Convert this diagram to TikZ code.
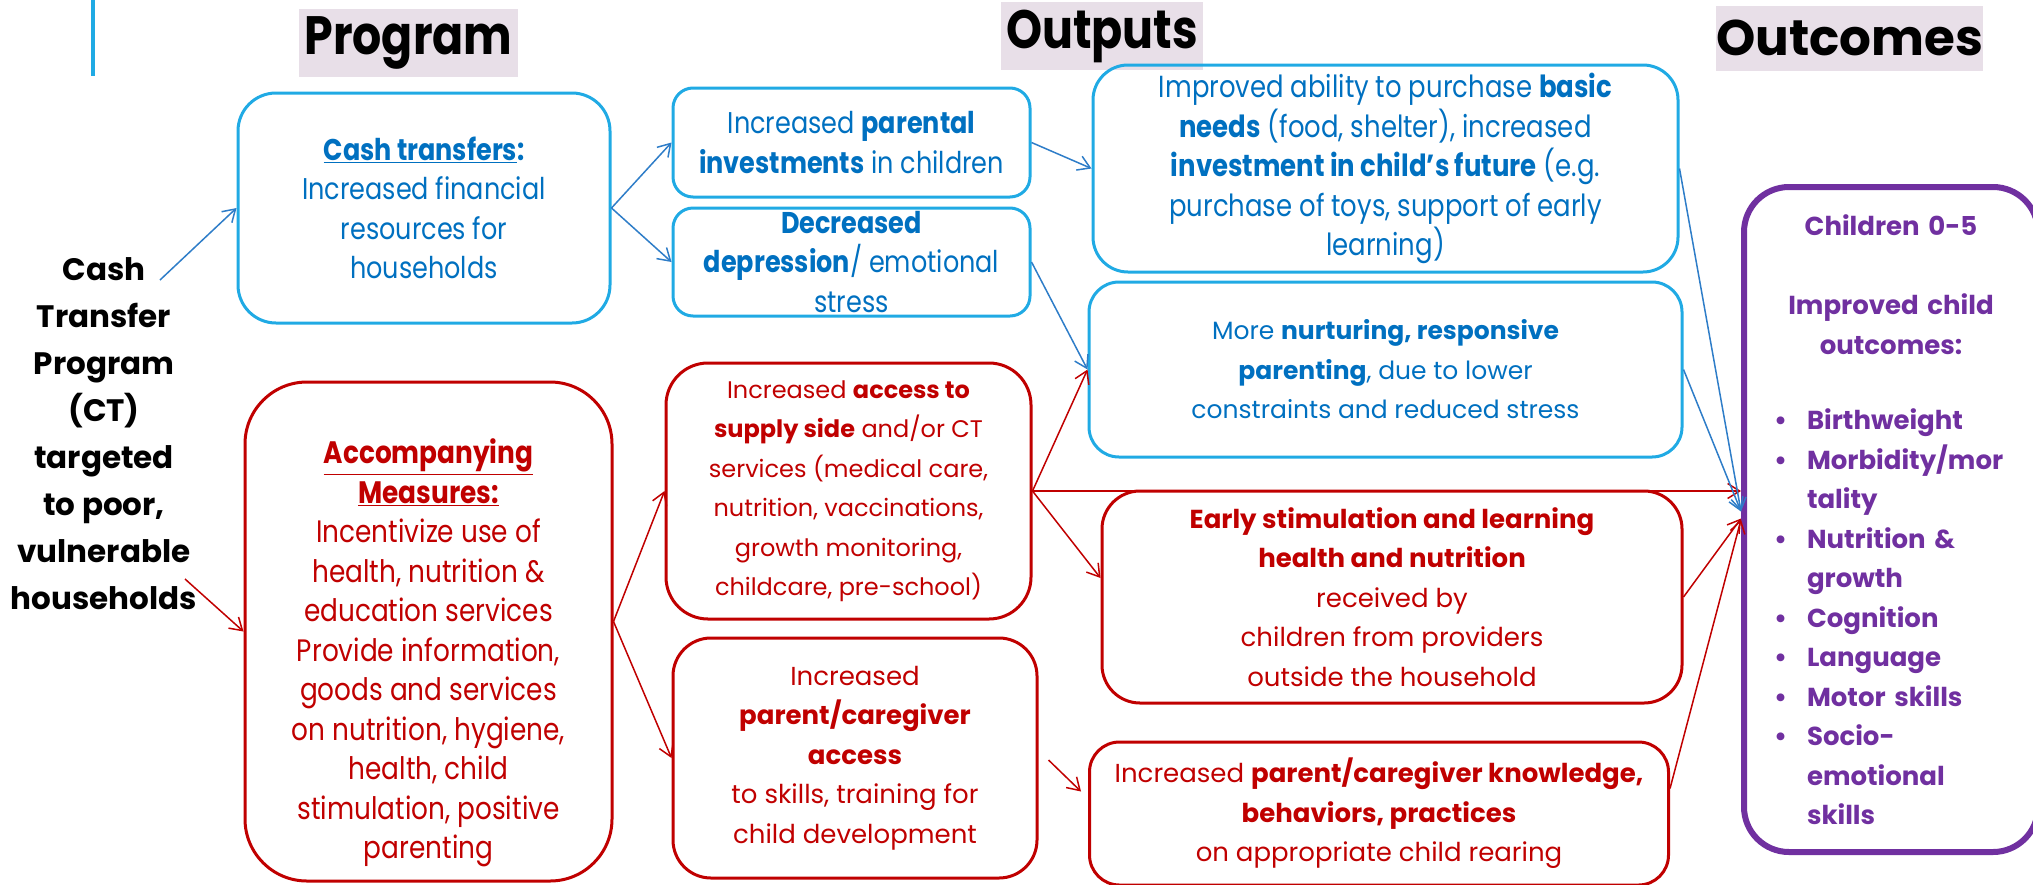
\documentclass[tikz,border=0pt]{standalone}
\usepackage{fontspec}
\setmainfont{Poppins}
\newfontfamily\twfont[FakeStretch=0.85]{Poppins}
\usetikzlibrary{arrows.meta}

\definecolor{ctcyan}{RGB}{32,170,228}
\definecolor{ctblue}{RGB}{0,112,192}
\definecolor{ctarrow}{RGB}{46,125,200}
\definecolor{ctred}{RGB}{192,0,0}
\definecolor{ctpurple}{RGB}{112,48,160}
\definecolor{headfill}{RGB}{232,223,232}

% font helpers (sizes are in pixels of the final picture)
\newcommand\twsize[1]{\twfont\fontsize{#1}{39.5}\selectfont}
\newcommand\cgsize[1]{\fontsize{#1}{39.5}\selectfont}
\newcommand\kiditem[1]{\makebox[36pt][l]{\hspace{3pt}\textbullet}#1\par}
\newcommand\kidcont[1]{\hspace*{36pt}#1\par}

\tikzset{
  headbox/.style={fill=headfill, inner sep=0pt, text=black},
  bluebox/.style={draw=ctcyan, line width=3pt, text=ctblue, align=center, inner sep=0pt},
  redbox/.style={draw=ctred, line width=3pt, text=ctred, align=center, inner sep=0pt},
  kidbox/.style={draw=ctpurple, line width=6pt, text=ctpurple, inner sep=0pt, rounded corners=45pt},
  bluearr/.style={->, ctarrow, line width=1.5pt},
  redarr/.style={->, ctred, line width=1.5pt}
}

\begin{document}
\begin{tikzpicture}[x=1pt, y=-1pt, line join=round,
  >={Straight Barb[length=12pt, width=15pt]}]

  \useasboundingbox (0,0) rectangle (2033,884);

  % ===== Column headers =====
  \draw[ctcyan, line width=4pt] (93,0) -- (93,76);
  \node[headbox, minimum width=219pt, minimum height=68pt,
        font=\twfont\bfseries\fontsize{54}{60}\selectfont] (hprog) at (408.5,43) {Program};
  \node[headbox, minimum width=202pt, minimum height=68pt,
        font=\twfont\bfseries\fontsize{54}{60}\selectfont] (hout) at (1102,36) {Outputs};
  \node[headbox, minimum width=257pt, minimum height=65pt,
        font=\bfseries\fontsize{50}{60}\selectfont] (hcome) at (1849.5,38) {Outcomes};

  % ===== Program =====
  \node[align=center, inner sep=0pt, font=\bfseries\fontsize{31}{47}\selectfont]
    (ctprog) at (104,434) {Cash\\Transfer\\Program\\(CT)\\targeted\\to poor,\\vulnerable\\households};
  \coordinate (ctout1) at (160,280);
  \coordinate (ctout2) at (185,579);

  \node[bluebox, minimum width=372pt, minimum height=230pt, rounded corners=38pt,
        font=\twsize{30}] (cash) at (424,208)
    {\textbf{\underline{Cash transfers}:}\\Increased financial\\resources for\\households};

  \node[redbox, minimum width=367pt, minimum height=499pt, rounded corners=62pt,
        font=\twsize{31}] (accomp) at (428.5,631.5)
    {\rule{0pt}{68pt}\textbf{\underline{Accompanying}}\\\textbf{\underline{Measures:}}\\
     Incentivize use of\\health, nutrition \&\\education services\\
     Provide information,\\goods and services\\on nutrition, hygiene,\\
     health, child\\stimulation, positive\\parenting};

  % ===== Outputs, first column =====
  \node[bluebox, minimum width=357pt, minimum height=109pt, rounded corners=20pt,
        font=\twsize{30}] (parental) at (851.5,142.5)
    {Increased \textbf{parental}\\\textbf{investments} in children};
  \node[bluebox, minimum width=357pt, minimum height=108pt, rounded corners=20pt,
        font=\twsize{30}] (depress) at (851.5,262)
    {\textbf{Decreased}\\\textbf{depression}/ emotional\\stress};
  \node[redbox, minimum width=365pt, minimum height=256pt, rounded corners=42pt,
        font=\cgsize{24}] (access) at (848.5,491)
    {Increased \textbf{access to}\\\textbf{supply side} and/or CT\\services (medical care,\\
     nutrition, vaccinations,\\growth monitoring,\\childcare, pre-school)};
  \node[redbox, minimum width=364pt, minimum height=240pt, rounded corners=38pt,
        font=\cgsize{26}] (caregiver) at (855,758)
    {Increased\\\textbf{parent/caregiver}\\\textbf{access}\\to skills, training for\\child development};

  % ===== Outputs, second column =====
  \node[bluebox, minimum width=585pt, minimum height=207pt, rounded corners=35pt,
        font=\twsize{30.5}] (ability) at (1385.5,168.5)
    {Improved ability to purchase \textbf{basic}\\\textbf{needs} (food, shelter), increased\\
     \textbf{investment in child’s future} (e.g.\\purchase of toys, support of early\\learning)};
  \node[bluebox, minimum width=593pt, minimum height=175pt, rounded corners=30pt,
        font=\cgsize{25}] (nurture) at (1385.5,369.5)
    {More \textbf{nurturing, responsive}\\\textbf{parenting}, due to lower\\constraints and reduced stress};
  \node[redbox, minimum width=580pt, minimum height=212pt, rounded corners=38pt,
        font=\cgsize{26}] (early) at (1392,597)
    {\textbf{Early stimulation and learning}\\\textbf{health and nutrition}\\received by\\
     children from providers\\outside the household};
  \node[redbox, minimum width=579pt, minimum height=143pt, rounded corners=30pt,
        font=\cgsize{26}] (knowledge) at (1379,813.5)
    {Increased \textbf{parent/caregiver knowledge,}\\\textbf{behaviors, practices}\\on appropriate child rearing};

  % ===== Outcomes =====
  \node[kidbox, minimum width=294pt, minimum height=665pt, text width=240pt,
        font=\bfseries\fontsize{26}{39.5}\selectfont] (kids) at (1891,519.5)
    {{\centering Children 0-5\\[40pt]Improved child\\outcomes:\par}
     \vspace{36pt}
     \kiditem{Birthweight}
     \kiditem{Morbidity/mor}\kidcont{tality}
     \kiditem{Nutrition \&}\kidcont{growth}
     \kiditem{Cognition}
     \kiditem{Language}
     \kiditem{Motor skills}
     \kiditem{Socio-}\kidcont{emotional}\kidcont{skills}};

  % ===== Connectors =====
  \draw[bluearr] (ctout1) -- (cash.west);
  \draw[redarr] (ctout2) -- (accomp.west);
  \draw[bluearr] (cash.east) -- (parental.west);
  \draw[bluearr] (cash.east) -- (depress.west);
  \draw[bluearr] (parental.east) -- (ability.west);
  \draw[bluearr] (depress.east) -- (nurture.west);
  \draw[redarr] ([yshift=10pt]accomp.east) -- (access.west);
  \draw[redarr] ([yshift=10pt]accomp.east) -- (caregiver.west);
  \draw[redarr] (access.east) -- (nurture.west);
  \draw[redarr] (access.east) -- (access.east -| kids.west);
  \draw[redarr] (access.east) -- ([yshift=19pt]early.west);
  \draw[redarr] ([xshift=10pt,yshift=-2pt]caregiver.east) -- ([xshift=-7pt,yshift=22pt]knowledge.west);
  \draw[bluearr] (ability.east) -- ([yshift=8pt]kids.west);
  \draw[bluearr] (nurture.east) -- ([yshift=8pt]kids.west);
  \draw[redarr] (early.east) -- ([yshift=1pt]kids.west);
  \draw[redarr] ([yshift=25pt]knowledge.east) -- (kids.west);

\end{tikzpicture}
\end{document}
